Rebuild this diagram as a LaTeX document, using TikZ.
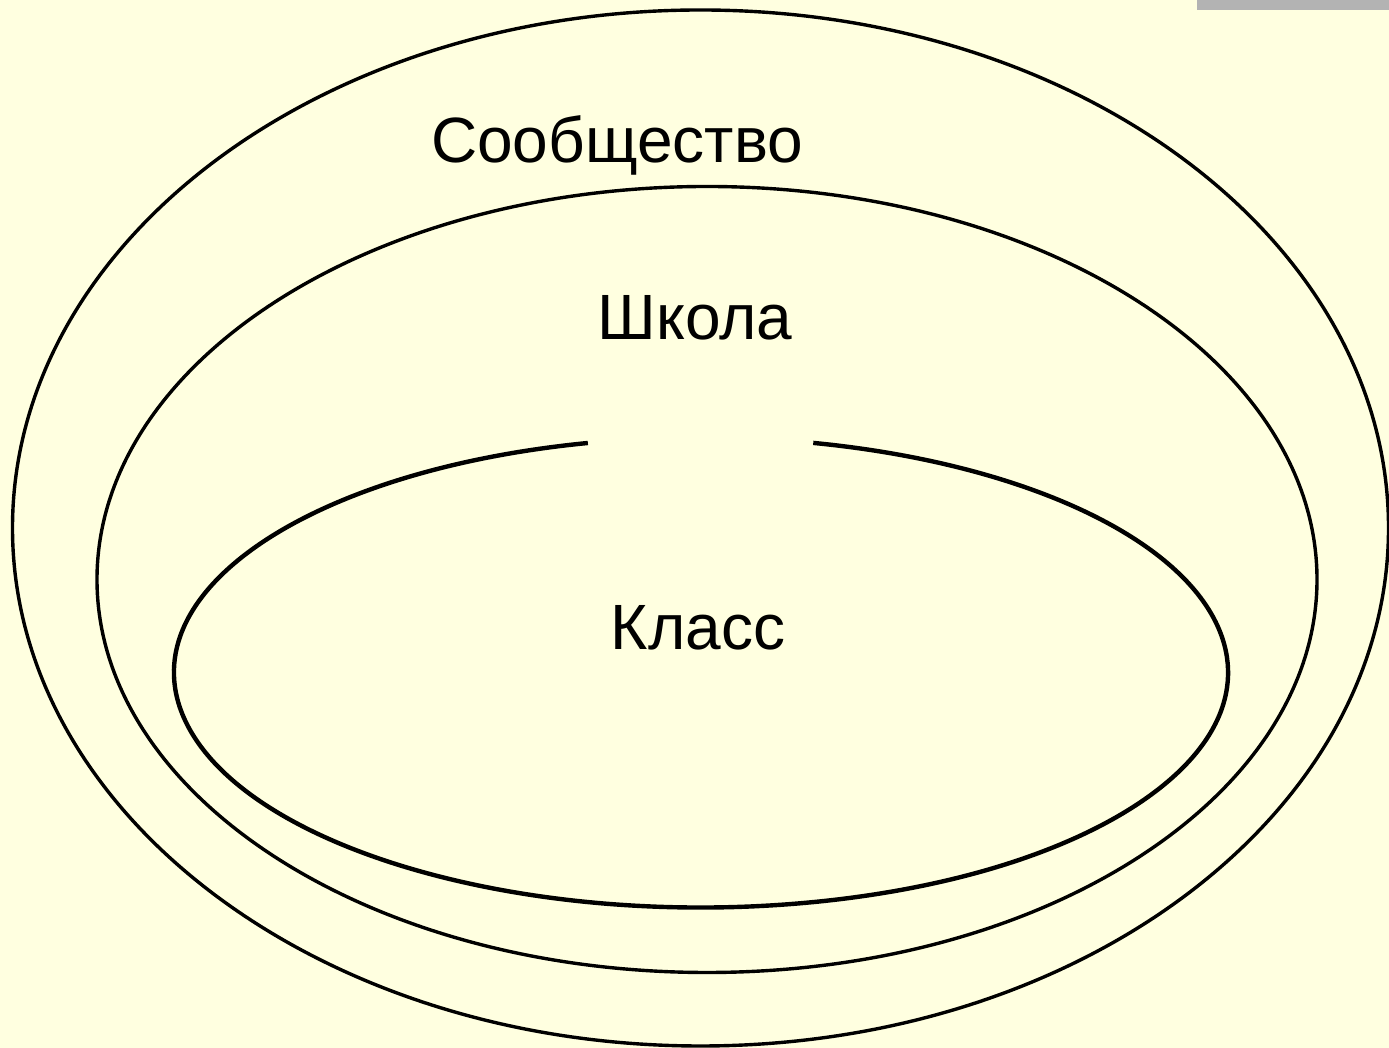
\documentclass[tikz,border=0pt]{standalone}
\usepackage{fontspec}
\setmainfont{Liberation Sans}
\definecolor{bgyellow}{HTML}{FFFFE0}
\definecolor{bargray}{HTML}{B3B3B3}
\begin{document}
\begin{tikzpicture}[x=1pt,y=1pt,
  ring/.style={draw=black,line width=3.4pt},
  inring/.style={draw=black,line width=4.4pt},
  lbl/.style={anchor=base,inner sep=0pt,font=\fontsize{64}{76}\selectfont}]
\fill[bgyellow] (0,0) rectangle (1389,1048);
\useasboundingbox (0,0) rectangle (1389,1048);
\fill[bargray] (1197,1038) rectangle (1389,1048);
% outer ellipse
\draw[ring] (700.5,520) ellipse [x radius=688, y radius=518];
% middle ellipse
\draw[ring] (707,468.5) ellipse [x radius=610, y radius=393];
% inner ellipse with gap at top
\draw[inring] (701,375.5) ++(102.4:527 and 235) arc [start angle=102.4, end angle=437.7, x radius=527, y radius=235];
\node[lbl] (soob) at (617,885) {Сообщество};
\node[lbl] (shk) at (695,708) {Школа};
\node[lbl] (kl) at (698,398) {Класс};
\end{tikzpicture}
\end{document}
